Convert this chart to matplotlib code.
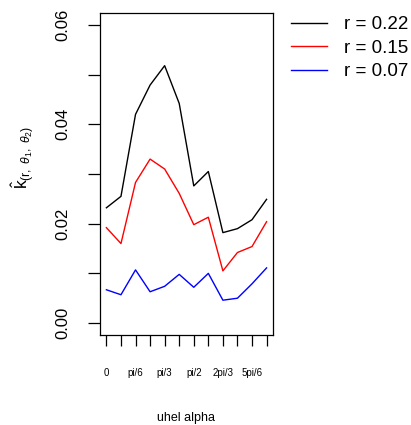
import numpy as np
import matplotlib
matplotlib.use("Agg")
import matplotlib.pyplot as plt

plt.rcParams["font.family"] = ["Liberation Sans", "DejaVu Sans"]
plt.rcParams["mathtext.fontset"] = "custom"
plt.rcParams["mathtext.rm"] = "Liberation Sans"
plt.rcParams["mathtext.it"] = "Liberation Sans:italic"

# angle index 1..12, labels only on every other tick
x_pos = np.arange(1, 13)
x_labels = ["0", "", "pi/6", "", "pi/3", "", "pi/2", "", "2pi/3", "", "5pi/6", ""]

k_r022 = [0.0232, 0.0255, 0.0420, 0.0479, 0.0518, 0.0442,
          0.0276, 0.0305, 0.0182, 0.0190, 0.0208, 0.0249]
k_r015 = [0.0192, 0.0160, 0.0283, 0.0330, 0.0310, 0.0261,
          0.0198, 0.0213, 0.0105, 0.0142, 0.0154, 0.0204]
k_r007 = [0.0067, 0.0057, 0.0107, 0.0063, 0.0074, 0.0098,
          0.0072, 0.0100, 0.0046, 0.0050, 0.0079, 0.0111]

series = [("r = 0.22", k_r022, "black"),
          ("r = 0.15", k_r015, "red"),
          ("r = 0.07", k_r007, "blue")]

fig = plt.figure(figsize=(4.11, 4.25), dpi=100)
ax = fig.add_axes([0.2433, 0.2118, 0.4209, 0.7576])

for lab, vals, col in series:
    ax.plot(x_pos, vals, color=col, linewidth=1, label=lab)

ax.set_xlim(1 - 0.44, 12 + 0.44)
ax.set_ylim(-0.0024, 0.0624)

ax.set_xticks(x_pos)
ax.set_xticklabels(x_labels, fontsize=7)
ax.set_yticks([0.0, 0.02, 0.04, 0.06])
ax.set_yticklabels(["0.00", "0.02", "0.04", "0.06"], fontsize=12, rotation=90,
                   va="center")
ax.set_yticks([0.01, 0.03, 0.05], minor=True)
ax.tick_params(axis="x", length=8, width=0.9, pad=16)
ax.tick_params(axis="y", which="both", length=8.5, width=0.9, pad=13)

for sp in ax.spines.values():
    sp.set_linewidth(0.9)

ax.set_xlabel("uhel alpha", fontsize=9)
ax.xaxis.set_label_coords(0.5, -0.258)
ax.xaxis.label.set_va("center")

ax.set_ylabel(r"$\hat{\mathrm{k}}_{(\mathrm{r},\ \theta_1,\ \theta_2)}$", fontsize=12.5)
ax.yaxis.set_label_coords(-0.445, 0.55)
ax.yaxis.label.set_va("center")

fig.legend(loc="upper left", bbox_to_anchor=(291 / 411, 1 - 16 / 425),
           frameon=False, fontsize=13.5, handlelength=1.9, handletextpad=0.9,
           labelspacing=0.35, borderpad=0, borderaxespad=0)

fig.savefig("out.png", dpi=100)
